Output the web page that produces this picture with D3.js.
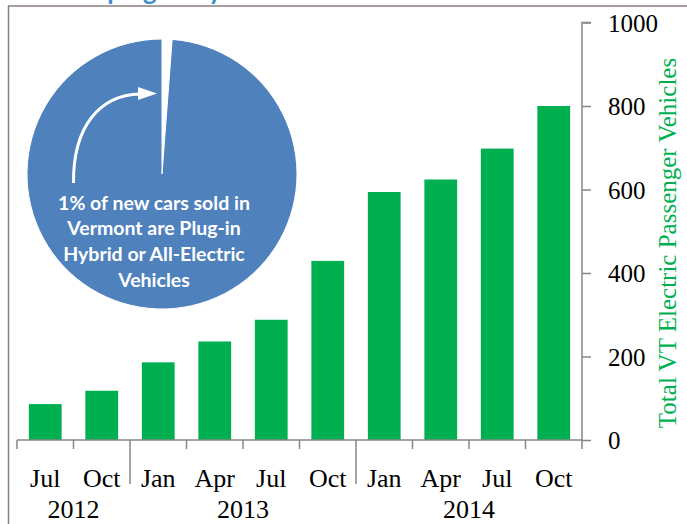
<!DOCTYPE html>
<html>
<head>
<meta charset="utf-8">
<script src="https://cdn.jsdelivr.net/npm/d3@7"></script>
<style>
  body { margin: 0; background: #fff; }
  svg { display: block; }
</style>
</head>
<body>
<script>
const svgWidth = 687
const svgHeight = 524

// data
const months = ["Jul", "Oct", "Jan", "Apr", "Jul", "Oct", "Jan", "Apr", "Jul", "Oct"]
const monthYears = ["2012", "2012", "2013", "2013", "2013", "2013", "2014", "2014", "2014", "2014"]
const totals = [86, 118, 186, 236, 288, 429, 594, 624, 698, 800]
const yTicks = [0, 200, 400, 600, 800, 1000]
const pieShares = [1.2, 98.8]   // plug-in / all other new cars, %
const pieNote = ["1% of new cars sold in", "Vermont are Plug-in", "Hybrid or All-Electric", "Vehicles"]
const title = "Sales of plug-in hybrid and electric vehicles"
const yTitle = "Total VT Electric Passenger Vehicles"

const categories = months.map((m, i) => monthYears[i] + " " + m + " " + i)

const plot = { left: 17, right: 582, top: 22.5, bottom: 440 }

const green = "#00B050"
const axisGrey = "#868686"
const serif = "'Liberation Serif', 'Times New Roman', serif"

const svg = d3.select("body").append("svg")
    .attr("width", svgWidth)
    .attr("height", svgHeight)

// heading, cut off by the top edge as in the source
svg.append("text")
    .attr("x", 12)
    .attr("y", -0.5)
    .attr("font-family", "Lato, 'Open Sans', sans-serif")
    .attr("font-weight", "bold")
    .attr("font-size", 26)
    .attr("fill", "#3A8DCA")
    .text(title)

svg.append("path")
    .attr("d", `M8.5,${svgHeight} V6 H${svgWidth}`)
    .attr("fill", "none")
    .attr("stroke", "#8C7E79")
    .attr("stroke-width", 1.5)

const x = d3.scaleBand()
    .domain(categories)
    .range([plot.left, plot.right])
    .paddingInner(0.42)
    .paddingOuter(0.21)

const y = d3.scaleLinear()
    .domain([0, 1000])
    .range([plot.bottom, plot.top])

// bars
svg.selectAll("rect.bar")
    .data(totals)
    .enter()
    .append("rect")
    .attr("class", "bar")
    .attr("x", (d, i) => x(categories[i]))
    .attr("y", d => y(d))
    .attr("width", x.bandwidth())
    .attr("height", d => y(0) - y(d))
    .attr("fill", green)

// right axis
const yAxis = d3.axisRight(y)
    .tickValues(yTicks)
    .tickSize(9)
    .tickPadding(17)
    .tickFormat(d3.format("d"))

const yG = svg.append("g")
    .attr("transform", `translate(${plot.right},0)`)
    .call(yAxis)

yG.select(".domain").attr("stroke", axisGrey).attr("stroke-width", 1.5).attr("d", `M9,${y(1000)}H0V${y(0)}`)
yG.selectAll(".tick line").attr("stroke", axisGrey).attr("stroke-width", 1.5)
yG.selectAll(".tick text")
    .attr("font-family", serif)
    .attr("font-size", 25)
    .attr("fill", "#000")
    .attr("dy", "0.34em")

svg.append("text")
    .attr("transform", "translate(676,243) rotate(-90)")
    .attr("text-anchor", "middle")
    .attr("font-family", serif)
    .attr("font-size", 25)
    .attr("fill", green)
    .text(yTitle)

// category axis: line, boundary ticks, long ticks between years
const step = x.step()
const bounds = d3.range(categories.length + 1).map(i => plot.left + i * step)
const yearBreak = i => i > 0 && i < categories.length && monthYears[i] !== monthYears[i - 1]

svg.append("line")
    .attr("x1", plot.left).attr("x2", plot.right)
    .attr("y1", y(0)).attr("y2", y(0))
    .attr("stroke", axisGrey).attr("stroke-width", 1.5)

svg.selectAll("line.xtick")
    .data(bounds)
    .enter()
    .append("line")
    .attr("class", "xtick")
    .attr("x1", d => d).attr("x2", d => d)
    .attr("y1", y(0))
    .attr("y2", (d, i) => yearBreak(i) ? 484 : y(0) + 9)
    .attr("stroke", axisGrey).attr("stroke-width", 1.5)

svg.selectAll("text.month")
    .data(months)
    .enter()
    .append("text")
    .attr("class", "month")
    .attr("x", (d, i) => x(categories[i]) + x.bandwidth() / 2)
    .attr("y", 487)
    .attr("text-anchor", "middle")
    .attr("font-family", serif)
    .attr("font-size", 26)
    .text(d => d)

const yearGroups = d3.groups(categories.map((c, i) => ({ c, yr: monthYears[i] })), d => d.yr)

svg.selectAll("text.year")
    .data(yearGroups)
    .enter()
    .append("text")
    .attr("class", "year")
    .attr("x", g => d3.mean(g[1], d => x(d.c) + x.bandwidth() / 2))
    .attr("y", 518)
    .attr("text-anchor", "middle")
    .attr("font-family", serif)
    .attr("font-size", 26)
    .text(g => g[0])

// inset pie
const pieCx = 162, pieCy = 174, pieR = 135
const pieG = svg.append("g").attr("transform", `translate(${pieCx},${pieCy})`)

const arcs = d3.pie().sort(null).value(d => d)(pieShares)
const arc = d3.arc().innerRadius(0).outerRadius(pieR)

pieG.selectAll("path")
    .data(arcs)
    .enter()
    .append("path")
    .attr("d", arc)
    .attr("fill", (d, i) => i === 0 ? "#ffffff" : "#4F81BD")
    .attr("stroke", "#ffffff")
    .attr("stroke-width", 1)

// curved arrow pointing at the thin slice
pieG.append("path")
    .attr("d", "M-88.5,9 C-89,-48 -62,-79 -22,-80")
    .attr("fill", "none")
    .attr("stroke", "#fff")
    .attr("stroke-width", 3)

pieG.append("path")
    .attr("d", "M-24,-87 L-5,-80.5 L-24,-74 Z")
    .attr("fill", "#fff")

pieG.selectAll("text.note")
    .data(pieNote)
    .enter()
    .append("text")
    .attr("class", "note")
    .attr("x", -8)
    .attr("y", (d, i) => 35.5 + i * 25.8)
    .attr("text-anchor", "middle")
    .attr("font-family", "Lato, 'Open Sans', sans-serif")
    .attr("font-weight", "bold")
    .attr("font-size", 19.5)
    .attr("fill", "#fff")
    .text(d => d)
</script>
</body>
</html>
